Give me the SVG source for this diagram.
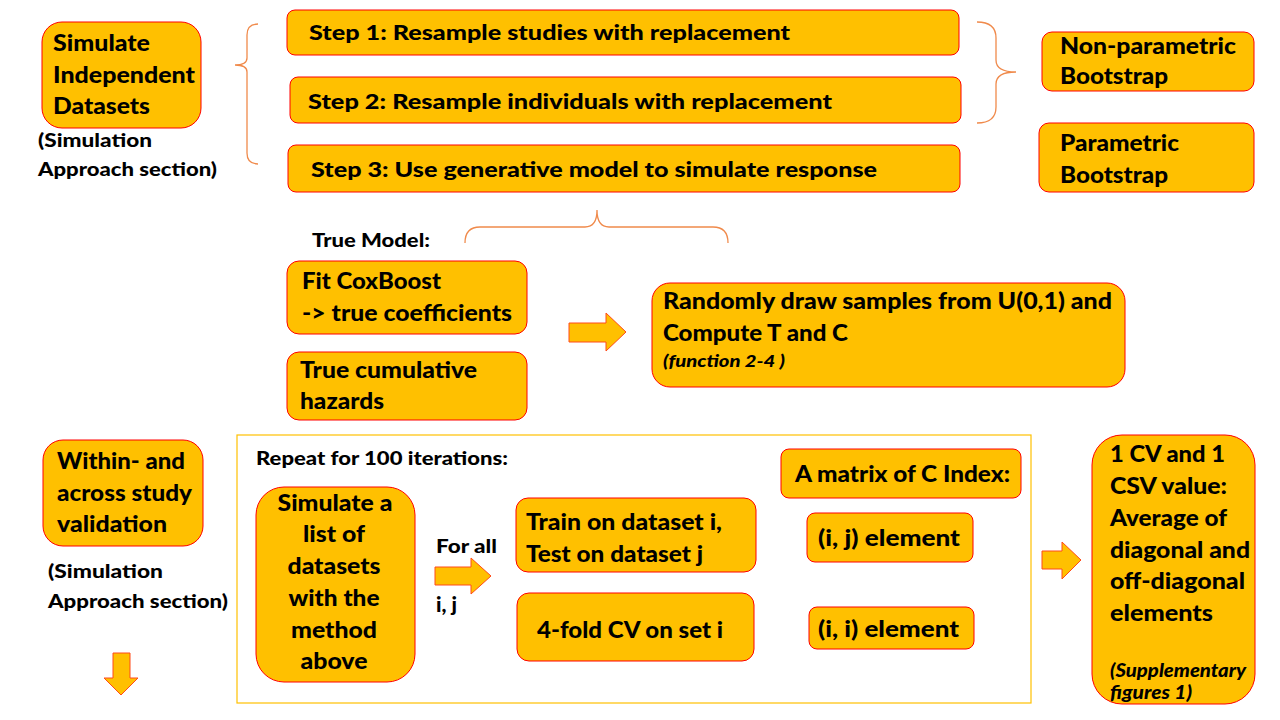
<svg xmlns="http://www.w3.org/2000/svg" width="1280" height="720" viewBox="0 0 1280 720">
<style>
.box{fill:#FFC000;stroke:#FF0000;stroke-width:1}
.t{font-family:Lato,"Open Sans","Liberation Sans",sans-serif;font-weight:900;fill:#000}
.m{font-size:23px}
.s{font-size:21px}
.p{font-size:19px}
.i{font-style:italic}
.brace{fill:none;stroke:#F08A4B;stroke-width:1.3}
.arrow{fill:#FFC000;stroke:#FF4A1A;stroke-width:1}
.frame{fill:none;stroke:#FFC000;stroke-width:1.2}
</style>
<rect width="1280" height="720" fill="#FFFFFF"/>

<g id="connectors">
  <path class="brace" d="M258,24 Q247,24 247,35 V58 Q247,65 235,65 Q247,65 247,72 V153 Q247,164 258,164"/>
  <path class="brace" d="M977,22 Q996,22 996,38 V60 Q996,72 1016,72 Q996,72 996,84 V107 Q996,123 977,123"/>
  <path class="brace" d="M465,243 Q465,227 480,227 H585 Q597,227 597,210 Q597,227 609,227 H713 Q728,227 728,243"/>
  <path class="arrow" d="M569,323 H606 V313 L626,332 L606,351 V342 H569 Z"/>
  <path class="arrow" d="M435,567 H471 V558 L491,576 L471,594 V585 H435 Z"/>
  <path class="arrow" d="M1042,551 H1062 V542 L1081,560 L1062,579 V569 H1042 Z"/>
  <path class="arrow" d="M113,653 H130 V678 H138 L121,695 L104,678 H113 Z"/>
</g>

<g id="simulate-independent">
  <rect class="box" x="42" y="22" width="159" height="106" rx="20"/>
  <text class="t m" x="53" y="51" textLength="97" lengthAdjust="spacingAndGlyphs">Simulate</text>
  <text class="t m" x="53" y="83" textLength="142" lengthAdjust="spacingAndGlyphs">Independent</text>
  <text class="t m" x="53" y="114" textLength="97" lengthAdjust="spacingAndGlyphs">Datasets</text>
</g>
<g id="note1">
  <text class="t p" x="38" y="147" textLength="114" lengthAdjust="spacingAndGlyphs">(Simulation</text>
  <text class="t p" x="38" y="176" textLength="179" lengthAdjust="spacingAndGlyphs">Approach section)</text>
</g>

<g id="step1">
  <rect class="box" x="287" y="10" width="672" height="45" rx="8"/>
  <text class="t s" x="309" y="40" textLength="481" lengthAdjust="spacingAndGlyphs">Step 1:  Resample studies with replacement</text>
</g>
<g id="step2">
  <rect class="box" x="290" y="77" width="671" height="46" rx="8"/>
  <text class="t s" x="308" y="109" textLength="524" lengthAdjust="spacingAndGlyphs">Step 2:  Resample individuals with replacement</text>
</g>
<g id="step3">
  <rect class="box" x="288" y="145" width="672" height="47" rx="8"/>
  <text class="t s" x="311" y="177" textLength="566" lengthAdjust="spacingAndGlyphs">Step 3:  Use generative model to simulate response</text>
</g>

<g id="nonparametric">
  <rect class="box" x="1042" y="32" width="212" height="59" rx="10"/>
  <text class="t m" x="1060" y="54" textLength="176" lengthAdjust="spacingAndGlyphs">Non-parametric</text>
  <text class="t m" x="1060" y="84" textLength="108" lengthAdjust="spacingAndGlyphs">Bootstrap</text>
</g>
<g id="parametric">
  <rect class="box" x="1039" y="123" width="215" height="69" rx="10"/>
  <text class="t m" x="1060" y="151" textLength="119" lengthAdjust="spacingAndGlyphs">Parametric</text>
  <text class="t m" x="1060" y="183" textLength="108" lengthAdjust="spacingAndGlyphs">Bootstrap</text>
</g>

<g id="true-model-label">
  <text class="t p" x="312" y="247" textLength="118" lengthAdjust="spacingAndGlyphs">True Model:</text>
</g>
<g id="fit-coxboost">
  <rect class="box" x="287" y="261" width="240" height="73" rx="12"/>
  <text class="t m" x="302" y="289" textLength="139" lengthAdjust="spacingAndGlyphs">Fit CoxBoost</text>
  <text class="t m" x="302" y="321" textLength="210" lengthAdjust="spacingAndGlyphs">-&gt; true coefficients</text>
</g>
<g id="true-hazards">
  <rect class="box" x="287" y="352" width="240" height="68" rx="12"/>
  <text class="t m" x="300" y="378" textLength="177" lengthAdjust="spacingAndGlyphs">True cumulative</text>
  <text class="t m" x="300" y="409" textLength="84" lengthAdjust="spacingAndGlyphs">hazards</text>
</g>
<g id="randomly-draw">
  <rect class="box" x="652" y="283" width="473" height="104" rx="18"/>
  <text class="t m" x="663" y="309" textLength="449" lengthAdjust="spacingAndGlyphs">Randomly draw samples from U(0,1) and</text>
  <text class="t m" x="663" y="341" textLength="185" lengthAdjust="spacingAndGlyphs">Compute T and  C</text>
  <text class="t i" font-size="17" x="663" y="367" textLength="122" lengthAdjust="spacingAndGlyphs">(function  2-4 )</text>
</g>

<g id="within-across">
  <rect class="box" x="43" y="440" width="160" height="106" rx="20"/>
  <text class="t m" x="57" y="469" textLength="128" lengthAdjust="spacingAndGlyphs">Within- and</text>
  <text class="t m" x="57" y="501" textLength="135" lengthAdjust="spacingAndGlyphs">across study</text>
  <text class="t m" x="57" y="532" textLength="110" lengthAdjust="spacingAndGlyphs">validation</text>
</g>
<g id="note2">
  <text class="t p" x="48" y="578" textLength="115" lengthAdjust="spacingAndGlyphs">(Simulation</text>
  <text class="t p" x="48" y="608" textLength="180" lengthAdjust="spacingAndGlyphs">Approach section)</text>
</g>

<g id="repeat-frame">
  <rect class="frame" x="237" y="435" width="794" height="268"/>
  <text class="t p" x="256" y="465" textLength="252" lengthAdjust="spacingAndGlyphs">Repeat for 100 iterations:</text>
</g>
<g id="simulate-list">
  <rect class="box" x="256" y="487" width="159" height="195" rx="28"/>
  <g text-anchor="middle">
    <text class="t m" x="335" y="511" textLength="115" lengthAdjust="spacingAndGlyphs">Simulate a</text>
    <text class="t m" x="334" y="542" textLength="62" lengthAdjust="spacingAndGlyphs">list of</text>
    <text class="t m" x="334" y="574" textLength="93" lengthAdjust="spacingAndGlyphs">datasets</text>
    <text class="t m" x="334" y="606" textLength="91" lengthAdjust="spacingAndGlyphs">with the</text>
    <text class="t m" x="334" y="638" textLength="86" lengthAdjust="spacingAndGlyphs">method</text>
    <text class="t m" x="334" y="669" textLength="67" lengthAdjust="spacingAndGlyphs">above</text>
  </g>
</g>
<g id="for-all-label">
  <text class="t p" x="436" y="553" textLength="61" lengthAdjust="spacingAndGlyphs">For all</text>
  <text class="t" font-size="20" x="436" y="612" textLength="21" lengthAdjust="spacingAndGlyphs">i, j</text>
</g>
<g id="train-test">
  <rect class="box" x="516" y="498" width="240" height="74" rx="12"/>
  <text class="t m" x="526" y="530" textLength="196" lengthAdjust="spacingAndGlyphs">Train on dataset i,</text>
  <text class="t m" x="526" y="562" textLength="177" lengthAdjust="spacingAndGlyphs">Test on dataset j</text>
</g>
<g id="fourfold-cv">
  <rect class="box" x="517" y="593" width="237" height="68" rx="12"/>
  <text class="t m" x="537" y="638" textLength="186" lengthAdjust="spacingAndGlyphs">4-fold CV on set i</text>
</g>
<g id="matrix">
  <rect class="box" x="781" y="449" width="240" height="49" rx="8"/>
  <text class="t" font-size="22" x="795" y="482" textLength="215" lengthAdjust="spacingAndGlyphs">A matrix of C Index:</text>
</g>
<g id="ij-element">
  <rect class="box" x="807" y="513" width="166" height="49" rx="8"/>
  <text class="t m" x="818" y="546" textLength="142" lengthAdjust="spacingAndGlyphs">(i, j) element</text>
</g>
<g id="ii-element">
  <rect class="box" x="809" y="607" width="165" height="42" rx="8"/>
  <text class="t m" x="818" y="637" textLength="141" lengthAdjust="spacingAndGlyphs">(i, i) element</text>
</g>

<g id="cv-csv">
  <rect class="box" x="1092" y="435" width="163" height="269" rx="30"/>
  <text class="t m" x="1110" y="462" textLength="115" lengthAdjust="spacingAndGlyphs">1 CV and 1</text>
  <text class="t m" x="1110" y="494" textLength="117" lengthAdjust="spacingAndGlyphs">CSV value:</text>
  <text class="t m" x="1110" y="526" textLength="117" lengthAdjust="spacingAndGlyphs">Average of</text>
  <text class="t m" x="1110" y="558" textLength="140" lengthAdjust="spacingAndGlyphs">diagonal and</text>
  <text class="t m" x="1110" y="589" textLength="135" lengthAdjust="spacingAndGlyphs">off-diagonal</text>
  <text class="t m" x="1110" y="621" textLength="103" lengthAdjust="spacingAndGlyphs">elements</text>
  <text class="t i" font-size="18" x="1110" y="677" textLength="136" lengthAdjust="spacingAndGlyphs">(Supplementary</text>
  <text class="t i" font-size="18" x="1110" y="699" textLength="82" lengthAdjust="spacingAndGlyphs">figures  1)</text>
</g>
</svg>
